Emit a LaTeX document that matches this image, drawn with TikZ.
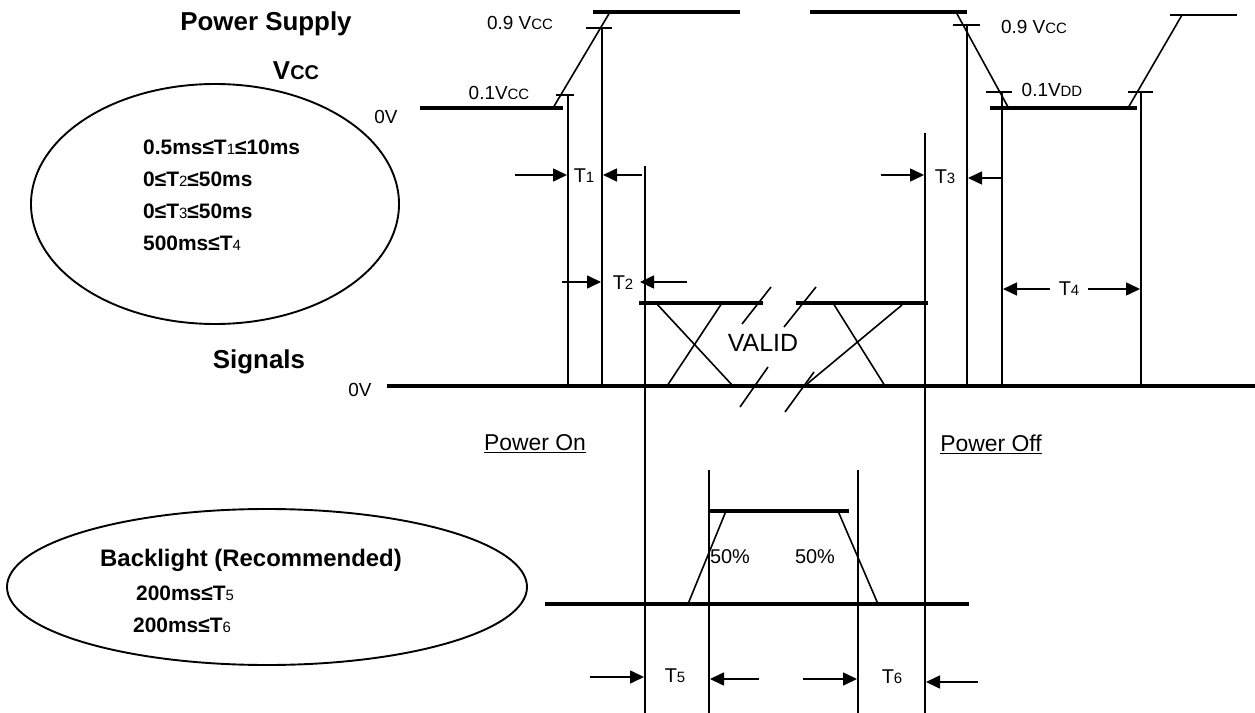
\documentclass[tikz,border=0pt]{standalone}
\usepackage{fontspec}
\setmainfont{Liberation Sans}
\usetikzlibrary{arrows.meta}
\newcommand\fs[1]{\fontsize{#1}{#1}\selectfont}
\newcommand\dsub[2]{{\fs{#1}\mdseries #2}}
\begin{document}
\begin{tikzpicture}[x=1bp,y=-1bp,
  thinln/.style={line width=1.6bp},
  thickln/.style={line width=4.2bp},
  arr/.style={line width=1.6bp,-{Triangle[length=14bp,width=13bp]}},
  lbl/.style={inner sep=0pt,font=\fs{19}},
  tlbl/.style={inner sep=0pt,font=\fs{20}},
  title/.style={inner sep=0pt,font=\fs{26}\bfseries},
  cond/.style={inner sep=0pt,font=\fs{21}\bfseries,anchor=west},
  oval/.style={line width=1.9bp}]
\useasboundingbox (0,0) rectangle (1255,713);

% titles
\node[title] (ps) at (266,24) {Power Supply};
\node[title] (vcc) at (296,71) {V\dsub{20}{\bfseries CC}};
\node[title] (sig) at (259,362) {Signals};
\node[lbl] (zv1) at (386,117) {0V};
\node[lbl] (zv2) at (360,390) {0V};

% upper ellipse
\draw[oval] (215,204) ellipse [x radius=184bp, y radius=120bp];
\node[cond] (c1) at (143,147) {0.5ms≤T\dsub{15}{1}≤10ms};
\node[cond] (c2) at (143,179) {0≤T\dsub{15}{2}≤50ms};
\node[cond] (c3) at (143,211) {0≤T\dsub{15}{3}≤50ms};
\node[cond] (c4) at (143,243) {500ms≤T\dsub{15}{4}};

% power supply waveform left
\draw[thickln] (420,108) -- (563,108);
\draw[thinln] (553,108) -- (610,12);
\draw[thickln] (593,12) -- (740,12);
\draw[thinln] (556,95) -- (574,95);
\draw[thinln] (586,28) -- (612,28);
\draw[thinln] (568,95) -- (568,386);
\draw[thinln] (602,28) -- (602,386);
\node[lbl] (l09a) at (520,23) {0.9 V\dsub{15}{CC}};
\node[lbl] (l01a) at (499,93) {0.1V\dsub{15}{CC}};

% power supply waveform right
\draw[thickln] (810,12) -- (967,12);
\draw[thinln] (956,12) -- (1008,107);
\draw[thinln] (953,25) -- (980,25);
\draw[thinln] (986,92) -- (1012,92);
\draw[thinln] (967,25) -- (967,386);
\draw[thinln] (1002,92) -- (1002,386);
\draw[thickln] (990,108) -- (1137,108);
\draw[thinln] (1128,108) -- (1182,15);
\draw[thinln] (1170,15) -- (1237,15);
\draw[thinln] (1128,92) -- (1153,92);
\draw[thinln] (1141,92) -- (1141,386);
\node[lbl] (l09b) at (1034,27) {0.9 V\dsub{15}{CC}};
\node[lbl] (l01b) at (1052,90) {0.1V\dsub{15}{DD}};

% long verticals
\draw[thinln] (645,166) -- (645,713);
\draw[thinln] (925,133) -- (925,713);

% signals
\draw[thickln] (387,386) -- (1255,386);
\draw[thickln] (639,303) -- (763,303);
\draw[thickln] (796,303) -- (928,303);
\draw[thinln] (656,303) -- (733,386);
\draw[thinln] (722,303) -- (667,386);
\draw[thinln] (833,303) -- (885,386);
\draw[thinln] (902,305) -- (807,384);
\draw[thinln] (742,324) -- (771,287);
\draw[thinln] (784,327) -- (816,287);
\draw[thinln] (740,407) -- (768,367);
\draw[thinln] (785,412) -- (814,372);
\node[inner sep=0pt,font=\fs{25}] (valid) at (763,343) {VALID};

% timing arrows
\node[tlbl] (t1) at (584,176) {T\dsub{15}{1}};
\draw[arr] (515,175) -- (567,175);
\draw[arr] (642,175) -- (603,175);
\node[tlbl] (t2) at (623,283) {T\dsub{15}{2}};
\draw[arr] (562,282) -- (601,282);
\draw[arr] (687,282) -- (640,282);
\node[tlbl] (t3) at (945,177) {T\dsub{15}{3}};
\draw[arr] (881,175) -- (924,175);
\draw[arr] (1003,178) -- (968,178);
\node[tlbl] (t4) at (1069,289) {T\dsub{15}{4}};
\draw[arr] (1050,289) -- (1003,289);
\draw[arr] (1088,289) -- (1140,289);

% power on/off
\node[inner sep=0pt,font=\fs{23}] (pon) at (535,444) {\underline{Power On}};
\node[inner sep=0pt,font=\fs{23}] (poff) at (991,444) {\underline{Power Off}};

% backlight
\draw[oval] (267,587) ellipse [x radius=260bp, y radius=78bp];
\node[inner sep=0pt,font=\fs{24}\bfseries] (bl) at (251,560) {Backlight (Recommended)};
\node[cond] (c5) at (136,593) {200ms≤T\dsub{15}{5}};
\node[cond] (c6) at (133,625) {200ms≤T\dsub{15}{6}};

\draw[thickln] (545,604) -- (969,604);
\draw[thickln] (708,511) -- (849,511);
\draw[thinln] (688,604) -- (726,511);
\draw[thinln] (838,511) -- (878,604);
\draw[thinln] (709,470) -- (709,713);
\draw[thinln] (858,470) -- (858,713);
\node[tlbl] (p50a) at (730,557) {50\%};
\node[tlbl] (p50b) at (815,557) {50\%};

\node[tlbl] (t5) at (675,676) {T\dsub{15}{5}};
\draw[arr] (590,677) -- (644,677);
\draw[arr] (759,679) -- (710,679);
\node[tlbl] (t6) at (892,677) {T\dsub{15}{6}};
\draw[arr] (803,679) -- (857,679);
\draw[arr] (978,682) -- (926,682);
\end{tikzpicture}
\end{document}
